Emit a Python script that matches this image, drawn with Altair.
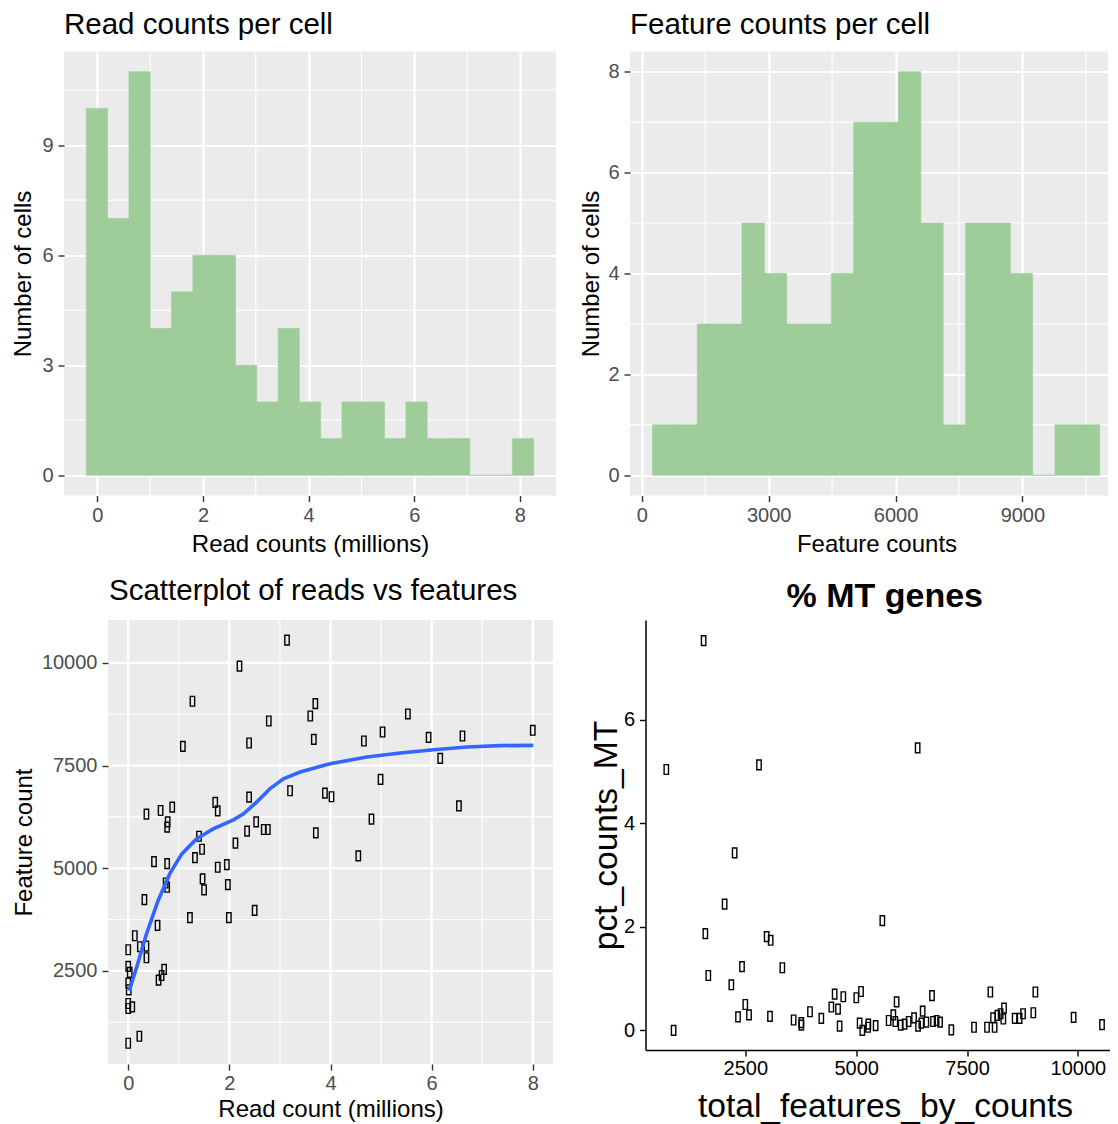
import altair as alt
import pandas as pd

FONT = "Liberation Sans"
PANEL_BG = "#EBEBEB"
BAR_GREEN = "#9ECD9A"
SMOOTH_BLUE = "#3366FF"
BOX = "M-0.45,-1L0.45,-1L0.45,1L-0.45,1Z"

# ---------------- data ----------------
# Read counts histogram (millions)
read_bin_left = [-0.209, 0.194, 0.598, 1.001, 1.404, 1.808, 2.211, 2.614, 3.018, 3.421, 3.824,
                 4.228, 4.631, 5.034, 5.437, 5.841, 6.244, 6.647, 7.051, 7.454, 7.857]
read_bin_right = [0.194, 0.598, 1.001, 1.404, 1.808, 2.211, 2.614, 3.018, 3.421, 3.824, 4.228,
                  4.631, 5.034, 5.437, 5.841, 6.244, 6.647, 7.051, 7.454, 7.857, 8.261]
read_bin_count = [10, 7, 11, 4, 5, 6, 6, 3, 2, 4, 2, 1, 2, 2, 1, 2, 1, 1, 0, 0, 1]

# Feature counts histogram
feat_bin_left = [253, 782, 1311, 1839, 2368, 2897, 3426, 3955, 4483, 5012,
                 5541, 6070, 6599, 7127, 7656, 8185, 8714, 9243, 9771, 10300]
feat_bin_right = [782, 1311, 1839, 2368, 2897, 3426, 3955, 4483, 5012, 5541,
                  6070, 6599, 7127, 7656, 8185, 8714, 9243, 9771, 10300, 10829]
feat_bin_count = [1, 1, 3, 3, 5, 4, 3, 3, 4, 7, 7, 8, 5, 1, 5, 5, 4, 0, 1, 1]

# Scatterplot of reads vs features
scatter_reads_m = [3.14, 2.20, 1.27, 3.70, 3.60, 2.78, 5.53, 5.03, 8.00, 5.94, 6.61, 4.66, 3.67, 2.39,
                   1.08, 6.17, 4.99, 3.20, 3.89, 4.02, 6.54, 2.39, 1.72, 1.77, 0.36, 0.64, 0.87, 0.78,
                   0.77, 2.53, 2.35, 2.68, 2.76, 4.81, 3.71, 1.40, 2.12, 1.46, 1.32, 0.51, 0.77, 1.77,
                   1.95, 4.55, 0.74, 0.77, 1.47, 1.50, 1.97, 0.32, 0.58, 1.22, 1.99, 2.50, 0.13, 0.36,
                   0.23, 0.36, 0.00, 0.00, 0.03, 0.71, 0.66, 0.60, 0.00, 0.01, 0.00, 0.08, 0.00, 0.22,
                   0.00]
scatter_features = [10553, 9919, 9065, 9008, 8707, 8585, 8756, 8317, 8358, 8187, 8220, 8098, 8138, 8049,
                    7967, 7675, 7163, 6886, 6829, 6740, 6520, 6732, 6602, 6398, 6317, 6406, 6488, 6130,
                    6000, 6130, 5902, 5943, 5943, 6195, 5862, 5780, 5610, 5463, 5260, 5163, 5114, 5024,
                    5089, 5301, 4642, 4537, 4740, 4472, 4602, 4236, 3610, 3797, 3797, 3976, 3358, 3106,
                    3090, 2821, 3016, 2610, 2464, 2537, 2390, 2277, 2203, 2041, 1707, 1626, 1585, 910,
                    740]

# Smoothed trend line
smooth_reads_m = [0.02, 0.165, 0.36, 0.59, 0.82, 1.06, 1.35, 1.68, 2.08, 2.28, 2.54, 2.80, 3.07,
                  3.40, 3.99, 4.72, 5.38, 6.04, 6.70, 7.35, 8.01]
smooth_features = [2016, 2585, 3398, 4211, 4862, 5350, 5715, 5959, 6179, 6325, 6610, 6935, 7179,
                   7342, 7545, 7707, 7805, 7886, 7951, 7984, 7992]

# % MT genes
mt_features = [1560, 719, 2809, 6386, 2260, 2034, 5590, 1599, 2982, 3072,
               2426, 3335, 1666, 2185, 2500, 2336, 2584, 3057, 884, 3590, 3763, 3763, 3959, 4214,
               4515, 4710, 4440, 4591, 5003, 5109, 4627, 5078, 5139, 5274, 5267, 5439,
               5912, 6710, 8025, 9040, 5732, 5838, 5883, 6003, 6093, 6183, 6305, 6395, 6499, 6469,
               6582, 6733, 6814, 6891, 7145, 7657, 7950, 8122, 8086, 8183, 8257, 8318, 8334, 8573,
               8686, 8762, 8994, 9903, 10543]
mt_pct = [7.53, 5.04, 5.13, 5.46, 3.43, 2.44, 2.12, 1.87, 1.81, 1.74,
          1.23, 1.21, 1.06, 0.88, 0.50, 0.26, 0.30, 0.27, 0.0, 0.20, 0.15, 0.10, 0.36, 0.23,
          0.70, 0.65, 0.45, 0.41, 0.63, 0.75, 0.08, 0.14, 0.0, 0.12, 0.06, 0.09,
          0.55, 0.67, 0.74, 0.74, 0.19, 0.30, 0.17, 0.10, 0.12, 0.17, 0.24, 0.08, 0.37, 0.14,
          0.16, 0.17, 0.19, 0.16, 0.01, 0.06, 0.06, 0.06, 0.24, 0.29, 0.32, 0.22, 0.43, 0.23,
          0.23, 0.32, 0.34, 0.25, 0.11]

# tick / grid values
tl_x_major = [0, 2, 4, 6, 8]
tl_x_minor = [1, 3, 5, 7]
tl_y_major = [0, 3, 6, 9]
tl_y_minor = [1.5, 4.5, 7.5, 10.5]
tr_x_major = [0, 3000, 6000, 9000]
tr_x_minor = [1500, 4500, 7500, 10500]
tr_y_major = [0, 2, 4, 6, 8]
tr_y_minor = [1, 3, 5, 7]
bl_x_major = [0, 2, 4, 6, 8]
bl_x_minor = [1, 3, 5, 7]
bl_y_major = [2500, 5000, 7500, 10000]
bl_y_minor = [1250, 3750, 6250, 8750]
mt_x_major = [2500, 5000, 7500, 10000]
mt_y_major = [0, 2, 4, 6]


# ---------------- helpers ----------------
def gg_axis(values, title, **kw):
    base = dict(values=values, title=title, grid=True, gridColor="white", gridWidth=2.2,
                domain=False, ticks=True, tickColor="#333333", tickSize=6, tickWidth=1.4,
                labelColor="#4D4D4D", labelFont=FONT, labelFontSize=20, labelFlush=False,
                labelOverlap=False, titleFont=FONT, titleFontSize=24, titleColor="black",
                titleFontWeight="normal", format="d")
    base.update(kw)
    return alt.Axis(**base)


def classic_axis(values, title, **kw):
    base = dict(values=values, title=title, grid=False, domain=True, domainColor="black",
                domainWidth=1.5, ticks=True, tickColor="black", tickSize=6, tickWidth=1.4,
                labelColor="black", labelFont=FONT, labelFontSize=20, labelFlush=False,
                labelOverlap=False, titleFont=FONT, titleFontSize=33.6, titleColor="black",
                titleFontWeight="normal", format="d")
    base.update(kw)
    return alt.Axis(**base)


def gg_title(text, offset, dx=0):
    return alt.TitleParams(text=text, anchor="start", frame="group", font=FONT, fontSize=29.5,
                           fontWeight="normal", color="black", baseline="top", offset=offset,
                           dx=dx)


def vrules(values, scale, axis, width):
    return alt.Chart(pd.DataFrame({"v": values})).mark_rule(color="white", strokeWidth=width).encode(
        x=alt.X("v:Q", scale=scale, axis=axis))


def hrules(values, scale, axis, width, x0=None, x1=None):
    enc = dict(y=alt.Y("v:Q", scale=scale, axis=axis))
    if x0 is not None:
        enc["x"] = alt.value(x0)
        enc["x2"] = alt.value(x1)
    return alt.Chart(pd.DataFrame({"v": values})).mark_rule(color="white", strokeWidth=width).encode(**enc)


gray_view = alt.ViewBackground(fill=PANEL_BG, stroke=None)
PT_SIZE, PT_STROKE = 95, 1.4

# ---------------- top-left: read counts histogram ----------------
TL_W, TL_H = 492, 444
tl_xs = alt.Scale(domain=[-0.632, 8.683], nice=False, zero=False)
tl_ys = alt.Scale(domain=[-0.55, 11.55], nice=False, zero=False)
tl_xa = gg_axis(tl_x_major, "Read counts (millions)", labelPadding=3.5, titleY=56,
                titleBaseline="alphabetic")
tl_ya = gg_axis(tl_y_major, "Number of cells", labelPadding=5, titleX=-34, titleAngle=270,
                titleBaseline="alphabetic")
read_df = pd.DataFrame({"left": read_bin_left, "right": read_bin_right, "n": read_bin_count})
tl_bars = alt.Chart(read_df).mark_rect(color=BAR_GREEN, stroke=BAR_GREEN, strokeWidth=0.6).encode(
    x=alt.X("left:Q", scale=tl_xs, axis=tl_xa),
    x2="right:Q",
    y=alt.Y("n:Q", scale=tl_ys, axis=tl_ya),
    y2=alt.datum(0),
)
tl = alt.layer(vrules(tl_x_minor, tl_xs, tl_xa, 1.1), hrules(tl_y_minor, tl_ys, tl_ya, 1.1),
               tl_bars).properties(
    width=TL_W, height=TL_H, title=gg_title("Read counts per cell", 10.2), view=gray_view)

# ---------------- top-right: feature counts histogram ----------------
TR_W, TR_H = 478, 444
tr_xs = alt.Scale(domain=[-280, 11025], nice=False, zero=False)
tr_ys = alt.Scale(domain=[-0.4, 8.4], nice=False, zero=False)
tr_xa = gg_axis(tr_x_major, "Feature counts", labelPadding=3.5, titleY=56, titleX=246.5,
                titleBaseline="alphabetic")
tr_ya = gg_axis(tr_y_major, "Number of cells", labelPadding=5, titleX=-32, titleAngle=270,
                titleBaseline="alphabetic")
feat_df = pd.DataFrame({"left": feat_bin_left, "right": feat_bin_right, "n": feat_bin_count})
tr_bars = alt.Chart(feat_df).mark_rect(color=BAR_GREEN, stroke=BAR_GREEN, strokeWidth=0.6).encode(
    x=alt.X("left:Q", scale=tr_xs, axis=tr_xa),
    x2="right:Q",
    y=alt.Y("n:Q", scale=tr_ys, axis=tr_ya),
    y2=alt.datum(0),
)
tr = alt.layer(vrules(tr_x_minor, tr_xs, tr_xa, 1.1), hrules(tr_y_minor, tr_ys, tr_ya, 1.1),
               tr_bars).properties(
    width=TR_W, height=TR_H, title=gg_title("Feature counts per cell", 10.2), view=gray_view)

# ---------------- bottom-left: scatter with smooth ----------------
# the view starts in the same column as the top-left panel; the grey panel is inset
BL_SHIFT, BL_W, BL_H = 44, 489, 444
bl_xs = alt.Scale(domain=[-0.4, 8.4], nice=False, zero=False, range=[BL_SHIFT, BL_W])
bl_ys = alt.Scale(domain=[235, 11043], nice=False, zero=False)
bl_xa = gg_axis(bl_x_major, "Read count (millions)", labelPadding=3, titleY=52,
                titleBaseline="alphabetic", grid=False, zindex=1)
bl_ya = gg_axis(bl_y_major, "Feature count", labelPadding=5, titleX=-77, titleAngle=270,
                titleBaseline="alphabetic", grid=False, zindex=1, offset=-BL_SHIFT)
sc_df = pd.DataFrame({"reads": scatter_reads_m, "features": scatter_features})
sm_df = pd.DataFrame({"reads": smooth_reads_m, "features": smooth_features})
bl_bg = alt.Chart(pd.DataFrame({"p": [0]})).mark_rect(color=PANEL_BG).encode(
    x=alt.value(BL_SHIFT), x2=alt.value(BL_W), y=alt.value(0), y2=alt.value(BL_H))
bl_points = alt.Chart(sc_df).mark_point(shape=BOX, filled=False, color="black", size=PT_SIZE,
                                        strokeWidth=PT_STROKE, opacity=1).encode(
    x=alt.X("reads:Q", scale=bl_xs, axis=bl_xa),
    y=alt.Y("features:Q", scale=bl_ys, axis=bl_ya),
)
bl_line = alt.Chart(sm_df).mark_line(color=SMOOTH_BLUE, strokeWidth=3.6).encode(
    x=alt.X("reads:Q", scale=bl_xs, axis=bl_xa), y=alt.Y("features:Q", scale=bl_ys, axis=bl_ya))
bl = alt.layer(
    bl_bg,
    vrules(bl_x_major, bl_xs, bl_xa, 2.2),
    vrules(bl_x_minor, bl_xs, bl_xa, 1.1),
    hrules(bl_y_major, bl_ys, bl_ya, 2.2, BL_SHIFT, BL_W),
    hrules(bl_y_minor, bl_ys, bl_ya, 1.1, BL_SHIFT, BL_W),
    bl_points, bl_line,
).properties(
    width=BL_W, height=BL_H,
    title=gg_title("Scatterplot of reads vs features", 12.2, dx=BL_SHIFT + 1),
)

# ---------------- bottom-right: % MT genes ----------------
MT_W, MT_H = 464.5, 430
mt_xs = alt.Scale(domain=[250, 10723], nice=False, zero=False)
mt_ys = alt.Scale(domain=[-0.38, 7.93], nice=False, zero=False)
mt_df = pd.DataFrame({"features": mt_features, "pct": mt_pct})
mt = alt.Chart(mt_df).mark_point(shape=BOX, filled=False, color="black", size=PT_SIZE,
                                 strokeWidth=PT_STROKE, opacity=1).encode(
    x=alt.X("features:Q", scale=mt_xs,
            axis=classic_axis(mt_x_major, "total_features_by_counts", labelPadding=2,
                              titleY=66, titleX=239.5, titleBaseline="alphabetic")),
    y=alt.Y("pct:Q", scale=mt_ys,
            axis=classic_axis(mt_y_major, "pct_counts_MT", labelPadding=5, titleX=-29,
                              titleAngle=270, titleBaseline="alphabetic")),
).properties(
    width=MT_W, height=MT_H,
    title=alt.TitleParams(text="% MT genes", anchor="middle", frame="group", font=FONT,
                          fontSize=34, fontWeight="bold", color="black",
                          baseline="top", offset=6.5, dx=7),
    view=alt.ViewBackground(fill="white", stroke=None),
)

row1 = alt.hconcat(tl, tr, spacing=22)
row2 = alt.hconcat(bl, mt, spacing=33.5)
chart = alt.vconcat(row1, row2, spacing=19.5).properties(
    padding={"left": 3, "top": 1.5, "right": 0, "bottom": 8},
    background="white",
).configure_view(stroke=None)

chart.save("out.html", embed_options={"renderer": "svg", "actions": False})
